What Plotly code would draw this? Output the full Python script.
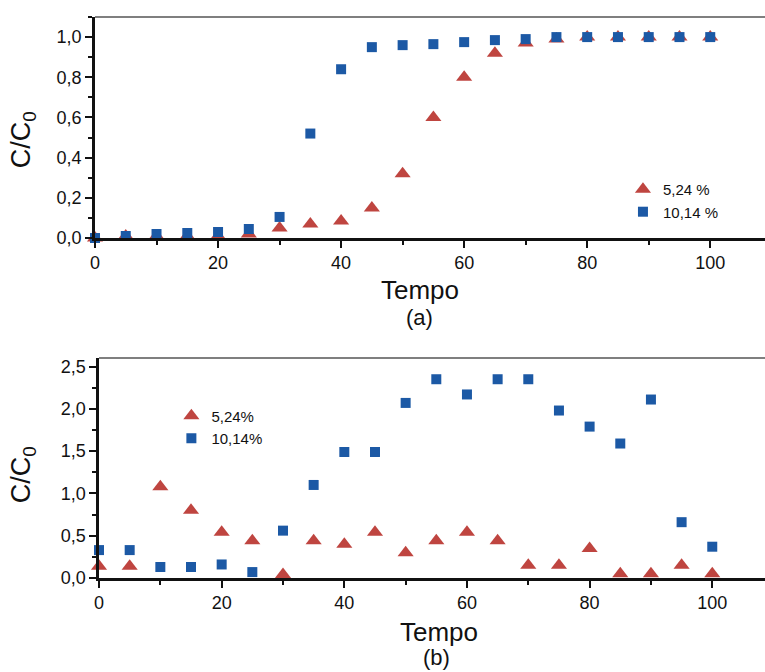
import plotly.graph_objects as go

# ---- data ----
tempo = [0, 5, 10, 15, 20, 25, 30, 35, 40, 45, 50, 55, 60, 65, 70, 75, 80, 85, 90, 95, 100]

a_524 = [0.0, 0.01, 0.01, 0.01, 0.01, 0.02, 0.05, 0.07, 0.085, 0.15, 0.32, 0.60, 0.80, 0.92,
         0.97, 0.99, 1.0, 1.0, 1.0, 1.0, 1.0]
a_1014 = [0.0, 0.01, 0.02, 0.025, 0.03, 0.045, 0.105, 0.52, 0.84, 0.95, 0.96, 0.965, 0.975,
          0.985, 0.99, 1.0, 1.0, 1.0, 1.0, 1.0, 1.0]

b_524 = [0.14, 0.14, 1.08, 0.80, 0.54, 0.44, 0.04, 0.44, 0.40, 0.54, 0.30, 0.44, 0.54, 0.44,
         0.15, 0.15, 0.35, 0.05, 0.05, 0.15, 0.05]
b_1014 = [0.33, 0.33, 0.13, 0.13, 0.16, 0.07, 0.56, 1.10, 1.49, 1.49, 2.07, 2.35, 2.17, 2.35,
          2.35, 1.98, 1.79, 1.59, 2.11, 0.66, 0.37]

names_a = ["5,24 %", "10,14 %"]
names_b = ["5,24%", "10,14%"]

RED = "#bf4540"
BLUE = "#1c59a5"
FONT = "Liberation Sans, Arial, sans-serif"

fig = go.Figure()

tri = dict(symbol="triangle-up", size=14, color=RED, line=dict(width=0))
sq = dict(symbol="square", size=10, color=BLUE, line=dict(width=0))

fig.add_trace(go.Scatter(x=tempo, y=a_524, mode="markers", name=names_a[0], marker=tri,
                         xaxis="x", yaxis="y", legend="legend", cliponaxis=False))
fig.add_trace(go.Scatter(x=tempo, y=a_1014, mode="markers", name=names_a[1], marker=sq,
                         xaxis="x", yaxis="y", legend="legend", cliponaxis=False))
fig.add_trace(go.Scatter(x=tempo, y=b_524, mode="markers", name=names_b[0], marker=tri,
                         xaxis="x2", yaxis="y2", legend="legend2", cliponaxis=False))
fig.add_trace(go.Scatter(x=tempo, y=b_1014, mode="markers", name=names_b[1], marker=sq,
                         xaxis="x2", yaxis="y2", legend="legend2", cliponaxis=False))

axis_common = dict(showgrid=False, zeroline=False, showline=True, linecolor="#111",
                   linewidth=2.5, ticks="outside", tickcolor="#111", tickwidth=2,
                   tickfont=dict(family=FONT, size=18, color="#111"))
minor_common = dict(ticks="outside", ticklen=4, tickcolor="#111", tickwidth=1.5)

fig.update_layout(
    width=765, height=672,
    paper_bgcolor="white", plot_bgcolor="white",
    separators=", ",
    margin=dict(l=95, r=0, t=17, b=94),
    showlegend=True,
    xaxis=dict(axis_common, domain=[0, 1], range=[0, 108.9], anchor="y",
               tickvals=[0, 20, 40, 60, 80, 100], ticklen=7,
               minor=dict(minor_common, dtick=10, tick0=0)),
    yaxis=dict(axis_common, domain=[0.606, 1.0], range=[0, 1.1], anchor="x",
               tickvals=[0, 0.2, 0.4, 0.6, 0.8, 1.0], tickformat=".1f", ticklen=7,
               minor=dict(minor_common, dtick=0.1, tick0=0)),
    xaxis2=dict(axis_common, domain=[0.006, 1], range=[0, 108.6], anchor="y2",
                tickvals=[0, 20, 40, 60, 80, 100], ticklen=7,
                minor=dict(minor_common, dtick=10, tick0=0)),
    yaxis2=dict(axis_common, domain=[0.0, 0.392], range=[0, 2.6], anchor="x2",
                tickvals=[0, 0.5, 1.0, 1.5, 2.0, 2.5], tickformat=".1f", ticklen=7,
                minor=dict(minor_common, dtick=0.25, tick0=0)),
    legend=dict(x=0.788, y=0.722, xanchor="left", yanchor="top", bgcolor="rgba(0,0,0,0)",
                font=dict(family=FONT, size=15, color="#111"), tracegroupgap=0),
    legend2=dict(x=0.114, y=0.318, xanchor="left", yanchor="top", bgcolor="rgba(0,0,0,0)",
                 font=dict(family=FONT, size=15, color="#111"), tracegroupgap=0),
)

# top frame lines
for xr, yr in (("x domain", "y domain"), ("x2 domain", "y2 domain")):
    fig.add_shape(type="line", xref=xr, yref=yr, x0=0, x1=1, y0=1, y1=1,
                  line=dict(color="#555", width=1.5))

ann_font = dict(family=FONT, color="#111")
anns = [
    dict(text="Tempo", x=0.485, y=0.513, size=26),
    dict(text="(a)", x=0.485, y=0.4635, size=22),
    dict(text="Tempo", x=0.513, y=-0.0963, size=26),
    dict(text="(b)", x=0.510, y=-0.141, size=22),
]
for a in anns:
    fig.add_annotation(text=a["text"], x=a["x"], y=a["y"], xref="paper", yref="paper",
                       showarrow=False, xanchor="center", yanchor="middle",
                       font=dict(ann_font, size=a["size"]))
for yy in (0.781, 0.1836):
    fig.add_annotation(text="C/C<sub>0</sub>", x=-0.107, y=yy, xref="paper", yref="paper",
                       showarrow=False, textangle=-90, xanchor="center", yanchor="middle",
                       font=dict(ann_font, size=27))

fig.write_html("out.html", config={"displayModeBar": False},
               post_script="document.body.style.margin='0';")
